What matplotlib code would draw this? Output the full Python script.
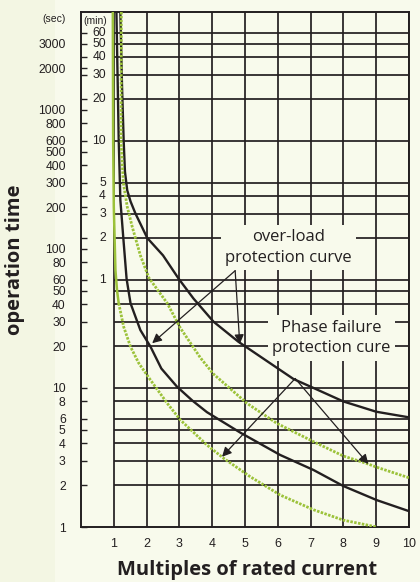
import matplotlib
matplotlib.use("Agg")
import matplotlib.pyplot as plt
from matplotlib.patches import Rectangle
from matplotlib.ticker import NullFormatter

# ==============================
# DATA
# ==============================
multiples = [1, 2, 3, 4, 5, 6, 7, 8, 9, 10]

sec_ticks = [1, 2, 3, 4, 5, 6, 8, 10, 20, 30, 40, 50, 60, 80, 100,
             200, 300, 400, 500, 600, 800, 1000, 2000, 3000]
min_labels = [1, 2, 3, 4, 5, 10, 20, 30, 40, 50, 60]
grid_sec = [2, 3, 4, 5, 6, 8, 10, 20, 30, 40, 50]

# overload curve, upper (black)
ol_hi_x = [1.20, 1.25, 1.30, 1.34, 1.41, 1.51, 1.66, 2.02, 2.50, 2.98, 3.43,
           4.04, 4.80, 5.57, 6.48, 7.09, 8.0, 9.0, 10.0]
ol_hi_t = [5070, 1500, 608, 360, 264, 220, 180, 120, 90, 61, 44,
           30, 21.5, 16.2, 11.6, 10.0, 8.0, 6.75, 6.15]

# overload curve, lower (black)
ol_lo_x = [1.08, 1.15, 1.20, 1.29, 1.39, 1.51, 1.81, 2.12, 2.45, 2.93, 3.40,
           3.84, 4.86, 6.07, 7.09, 8.0, 9.02, 10.0]
ol_lo_t = [5070, 608, 225, 120, 61, 40.7, 26.1, 19.8, 13.8, 10.2, 8.1,
           6.7, 4.77, 3.30, 2.57, 1.97, 1.56, 1.30]

# phase failure curve, upper (green dotted)
pf_hi_x = [1.23, 1.22, 1.29, 1.41, 1.56, 1.81, 2.07, 2.63, 3.03, 3.64,
           4.04, 5.06, 5.97, 7.09, 8.0, 8.7, 9.02, 10.0]
pf_hi_t = [5070, 608, 300, 201, 145, 90, 62, 40.7, 27, 16.5,
           12.6, 7.76, 5.57, 4.11, 3.24, 2.87, 2.69, 2.26]

# phase failure curve, lower (green, solid at top then dotted)
pf_lo_x = [0.97, 0.98, 1.0, 1.05, 1.10, 1.15]
pf_lo_t = [5070, 608, 200, 70.6, 50, 40.7]
pf_lo_x2 = [1.15, 1.30, 1.51, 1.76, 2.12, 2.63, 3.03, 3.84, 4.35, 5.16,
            6.07, 7.09, 8.0, 9.02]
pf_lo_t2 = [40.7, 27.6, 19.8, 15.1, 11.4, 7.76, 5.89, 3.89, 3.12, 2.3,
            1.70, 1.33, 1.12, 1.0]

# ==============================
# STYLE
# ==============================
INK = "#231f20"
GREEN = "#9cc23a"
BG_OUT = "#f3f6e3"
BG_IN = "#f8faec"
TICK_FONT = "Liberation Sans"
TEXT_FONT = "Open Sans"

fig = plt.figure(figsize=(4.2, 5.82), dpi=100, facecolor=BG_OUT)
fig.patches.append(Rectangle((55 / 420, 0), 1, 1, transform=fig.transFigure,
                             facecolor=BG_IN, edgecolor="none", zorder=-10))
ax = fig.add_axes([81 / 420, 1 - 527 / 582, 328 / 420, 515 / 582])
ax.set_facecolor(BG_IN)

ax.set_yscale("log")
ax.set_xlim(0, 10)
ax.set_ylim(1, 5070)

# grid only over the 1..10 range
hlines = grid_sec + [m * 60 for m in min_labels]
ax.hlines(hlines, 1, 10, colors=INK, lw=1.25, zorder=1)
ax.vlines(multiples, 1, 5070, colors=INK, lw=1.25, zorder=1)

for s in ax.spines.values():
    s.set_color(INK)
    s.set_linewidth(1.4)

# y ticks: seconds (labelled) + minute positions (unlabelled)
ax.set_yticks(sec_ticks, [str(v) for v in sec_ticks])
ax.set_yticks([m * 60 for m in min_labels if m * 60 not in sec_ticks], minor=True)
ax.yaxis.set_minor_formatter(NullFormatter())
ax.tick_params(axis="y", which="both", direction="in", length=4.5, width=1,
               color=INK, pad=11, labelsize=8.7)
ax.set_xticks(multiples, [str(v) for v in multiples])
ax.tick_params(axis="x", length=0, pad=8, labelsize=9)
for lab in ax.get_xticklabels() + ax.get_yticklabels():
    lab.set_fontfamily(TICK_FONT)
    lab.set_color(INK)

# minute labels inside the axes
for m in min_labels:
    ax.text(0.76, m * 60, str(m), ha="right", va="center", fontsize=8.7,
            family=TICK_FONT, color=INK, zorder=5)
ax.text(0.08, 4350, "(min)", ha="left", va="center", fontsize=7.5,
        family=TICK_FONT, color=INK, zorder=5)
ax.text(-0.48, 4500, "(sec)", ha="right", va="center", fontsize=7.5,
        family=TICK_FONT, color=INK, clip_on=False)

# ==============================
# CURVES
# ==============================
dotted = (0, (0.9, 0.5))
ax.plot(ol_hi_x, ol_hi_t, color=INK, lw=1.7, zorder=4)
ax.plot(ol_lo_x, ol_lo_t, color=INK, lw=1.7, zorder=4)
ax.plot(pf_hi_x, pf_hi_t, color=GREEN, lw=2.0, ls=dotted, zorder=4)
ax.plot(pf_lo_x, pf_lo_t, color=GREEN, lw=1.8, zorder=4)
ax.plot(pf_lo_x2, pf_lo_t2, color=GREEN, lw=2.0, ls=dotted, zorder=4)

# ==============================
# LABELS + ARROWS
# ==============================
box = dict(facecolor=BG_IN, edgecolor="none", pad=3)
ax.text(6.32, 103, "over-load\nprotection curve", ha="center", va="center",
        fontsize=12, family=TEXT_FONT, color=INK, bbox=box, zorder=3,
        linespacing=1.4)
ax.text(7.63, 22.9, "Phase failure\nprotection cure", ha="center", va="center",
        fontsize=12, family=TEXT_FONT, color=INK, bbox=box, zorder=3,
        linespacing=1.4)

arrow = dict(arrowstyle="-|>", color=INK, lw=0.9, mutation_scale=14,
             shrinkA=0, shrinkB=0)
for tip in [(2.17, 21.0), (4.84, 20.7)]:
    ax.annotate("", xy=tip, xytext=(4.70, 69.8), arrowprops=arrow, zorder=6)
for tip in [(4.30, 3.2), (8.76, 2.84)]:
    ax.annotate("", xy=tip, xytext=(6.53, 11.7), arrowprops=arrow, zorder=6)

fig.text(15 / 420, 1 - 260 / 582, "operation time", rotation=90,
         ha="center", va="center", fontsize=14.5, fontweight="bold",
         family=TEXT_FONT, color=INK)
fig.text(247 / 420, 1 - 570 / 582, "Multiples of rated current",
         ha="center", va="center", fontsize=14.5, fontweight="bold",
         family=TEXT_FONT, color=INK)

fig.savefig("out.png", dpi=100, facecolor=fig.get_facecolor())
